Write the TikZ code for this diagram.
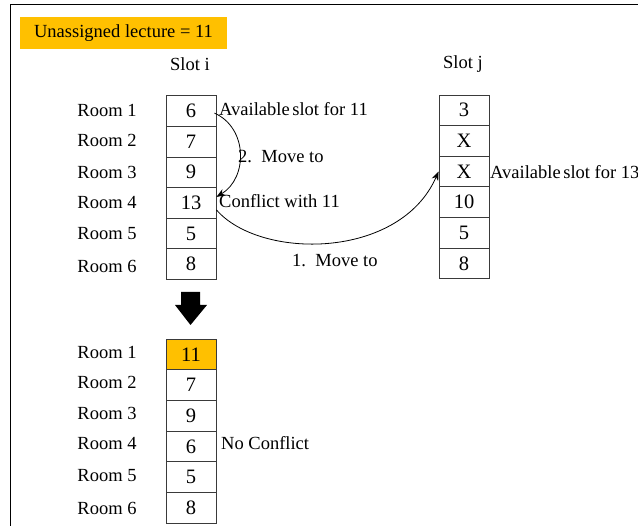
\documentclass[tikz,border=0pt]{standalone}
\usepackage{fontspec}
\setmainfont{Liberation Serif}
\usetikzlibrary{arrows.meta,calc}
\definecolor{amber}{HTML}{FFC000}
\definecolor{cellline}{HTML}{3A3A3A}
\tikzset{
  lbl/.style={font=\fontsize{18.5}{21}\selectfont, inner sep=0pt},
  cell/.style={draw=cellline, line width=0.9pt, minimum width=50pt, minimum height=30.6pt,
    inner sep=0pt, font=\fontsize{20.5}{22}\selectfont},
  arr/.style={line width=0.8pt, -{Stealth[length=9pt,width=7pt]}},
}
\begin{document}
\begin{tikzpicture}[x=1pt,y=-1pt]
\useasboundingbox (0,0) rectangle (638,526);
% frame
\draw[line width=1pt] (638,5) -- (10,5) -- (10,526);
% header
\node[fill=amber, minimum width=207pt, minimum height=32pt, inner sep=0pt,
  font=\fontsize{18.5}{21}\selectfont] (head) at (123.5,33) {Unassigned lecture = 11};
\node[lbl] (sloti) at (190,64) {Slot i};
\node[lbl] (slotj) at (463,64) {Slot j};
% room labels, top
\foreach \k/\y in {1/110,2/140,3/172,4/203,5/234,6/266}
  \node[lbl] (r\k) at (107,\y) {Room \k};
% slot i
\foreach \k/\v in {1/6,2/7,3/9,4/13,5/5,6/8}
  \node[cell] (i\k) at (191,{95.8+30.6*(\k-0.5)}) {\v};
% slot j
\foreach \k/\v in {1/3,2/X,3/X,4/10,5/5,6/8}
  \node[cell] (j\k) at (464,{95+30.6*(\k-0.5)}) {\v};
% annotations
\node[lbl, anchor=west] (avail11) at (219,109) {Available\hspace{-2pt} slot for 11};
\node[lbl, anchor=west] (move2) at (238,157) {2.\ \ Move to};
\node[lbl, anchor=west] (confl) at (219,201) {Conflict with 11};
\node[lbl, anchor=west] (move1) at (292,261) {1.\ \ Move to};
\node[lbl, anchor=west] (avail13) at (490,172) {Available\hspace{-2pt} slot for 13};
% moves
\draw[arr] ($(i1.east)+(-2,2)$) .. controls (248,128) and (248,178) .. ($(i4.east)+(0,-6)$);
\draw[arr] ($(i4.east)+(0,7)$) .. controls (260,260) and (400,260) .. (j3.west);
% result arrow
\fill (181,292) -- (200,292) -- (200,305) -- (207,305) -- (190.5,325) -- (175,305) -- (181,305) -- cycle;
% room labels, bottom
\foreach \k/\y in {1/352,2/382,3/413,4/444,5/476,6/508}
  \node[lbl] (s\k) at (107,\y) {Room \k};
% slot i after the moves
\foreach \k/\v in {1/11,2/7,3/9,4/6,5/5,6/8}
  \node[cell] (b\k) at (191,{339+30.7*(\k-0.5)}) {\v};
\node[cell, fill=amber] at (b1) {11};
\node[lbl, anchor=west] (noconf) at (221,443) {No Conflict};
\end{tikzpicture}
\end{document}
